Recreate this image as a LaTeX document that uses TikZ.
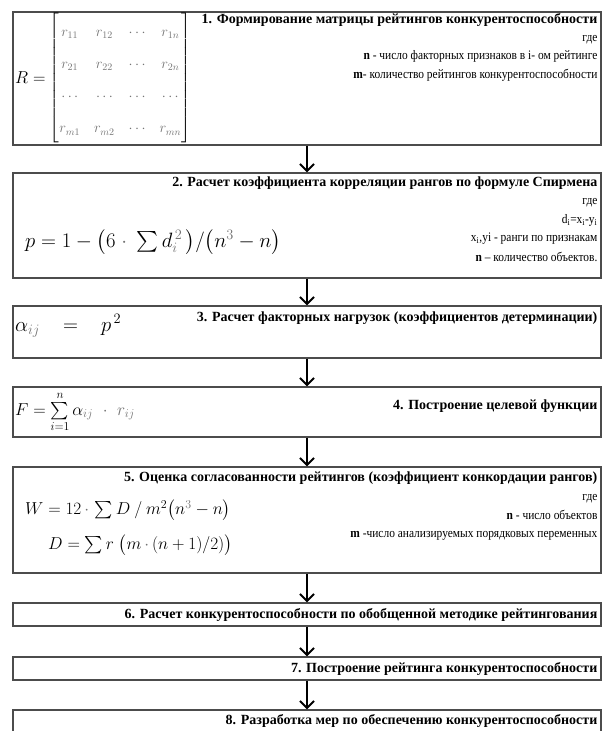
\documentclass[tikz,border=0pt]{standalone}
\usepackage{fontspec}
\usepackage{amsmath}
\setmainfont{Liberation Serif}
\newfontfamily\narrowSerif[FakeStretch=0.88]{Liberation Serif}
\usetikzlibrary{positioning,arrows.meta}
\definecolor{entryGray}{gray}{0.45}
\newcommand{\gr}[1]{{\color{entryGray}#1}}

\begin{document}
\begin{tikzpicture}
		[x=1pt,y=-1pt,
			boxDecorate/.style={draw=black!70,line width=1.2pt,minimum width=588pt,inner sep=0pt},
			arrowDecorate/.style={-{Straight Barb[length=7pt,width=14pt]},line width=2pt},
			titleDecorate/.style={font=\fontsize{14}{16}\selectfont\bfseries,inner sep=1pt},
			noteDecorate/.style={font=\fontsize{13}{18.5}\narrowSerif,align=right,inner sep=1pt},
			formulaDecorate/.style={font=\fontsize{17}{20}\selectfont,inner sep=0pt,anchor=west}]
		\useasboundingbox (0,0) rectangle (603,731);
		\foreach \boxname/\y/\h in {
				b1/78.5/133, b2/225.5/105, b3/332/52, b4/412/50,
				b5/520/106, b6/614.5/23, b7/668.5/23, b8/730/40}
			{
				\node (\boxname) at (307,\y) [boxDecorate,minimum height=\h] {};
			}
		% titles of the steps
		\node (t1) [titleDecorate,below left=1pt and 3pt of b1.north east] {1. Формирование матрицы рейтингов конкурентоспособности};
		\node (t2) [titleDecorate,below left=3pt and 3pt of b2.north east] {2. Расчет коэффициента корреляции рангов по формуле Спирмена};
		\node (t3) [titleDecorate,below left=5pt and 3pt of b3.north east] {3. Расчет факторных нагрузок (коэффициентов детерминации)};
		\node (t4) [titleDecorate,below left=12pt and 3pt of b4.north east] {4. Построение целевой функции};
		\node (t5) [titleDecorate,below left=4pt and 3pt of b5.north east] {5. Оценка согласованности рейтингов (коэффициент конкордации рангов)};
		\node (t6) [titleDecorate,left=3pt of b6.east] {6. Расчет конкурентоспособности по обобщенной методике рейтингования};
		\node (t7) [titleDecorate,left=3pt of b7.east] {7. Построение рейтинга конкурентоспособности};
		\node (t8) [titleDecorate,below left=4pt and 3pt of b8.north east] {8. Разработка мер по обеспечению конкурентоспособности};
		% notes
		\node (n1) [noteDecorate,below left=6pt and 0pt of t1.south east]
			{где\\ \textbf{n} - число факторных признаков в i- ом рейтинге\\ \textbf{m}- количество рейтингов конкурентоспособности};
		\node (n2) [noteDecorate,below left=7pt and 0pt of t2.south east]
			{где\\ d\textsubscript{i}=x\textsubscript{i}-y\textsubscript{i}\\ x\textsubscript{i},yi - ранги по признакам\\[1.5pt] \textbf{n} – количество объектов.};
		\node (n5) [noteDecorate,below left=8pt and 0pt of t5.south east]
			{где\\ \textbf{n} - число объектов\\ \textbf{m} -число анализируемых порядковых переменных};
		% formulas
		\node (f1) [formulaDecorate] at (15,78) {$R =$};
		\node (m1) [formulaDecorate,font=\fontsize{14}{17}\selectfont,right=4pt of f1]
			{\renewcommand{\arraystretch}{1.9}\setlength{\arraycolsep}{7pt}%
			$\begin{bmatrix}
				\gr{r_{11}} & \gr{r_{12}} & \gr{\cdots} & \gr{r_{1n}}\\
				\gr{r_{21}} & \gr{r_{22}} & \gr{\cdots} & \gr{r_{2n}}\\
				\gr{\cdots} & \gr{\cdots} & \gr{\cdots} & \gr{\cdots}\\
				\gr{r_{m1}} & \gr{r_{m2}} & \gr{\cdots} & \gr{r_{mn}}
			\end{bmatrix}$};
		\node (f2) [formulaDecorate,font=\fontsize{20}{23}\selectfont] at (25,242)
			{$p = 1 - \bigl(6\;\gr{\cdot}\;\sum d_{\gr{i}}^{\,\gr{2}}\,\bigr)/\bigl(n^{\gr{3}} - n\bigr)$};
		\node (f3) [formulaDecorate,font=\fontsize{22}{24}\selectfont] at (15,326)
			{$\alpha_{\gr{ij}} \;\;\;=\;\;\; p^{\,2}$};
		\node (f4) [formulaDecorate] at (15,412)
			{$F = \sum\limits_{i=1}^{n} \alpha_{\gr{ij}}\;\;\gr{\cdot}\;\; \gr{r_{ij}}$};
		\node (f5) [formulaDecorate] at (25,510)
			{$W = 12\,\gr{\cdot}\,\sum D \mathbin{/} m^2\bigl(n^{\gr{3}} - n\bigr)$};
		\node (g5) [formulaDecorate,font=\fontsize{16}{19}\selectfont] at (48,545)
			{$D = \sum r\;\bigl(m\,\gr{\cdot}\,(n+1)/2)\bigr)$};
		% arrows between the steps
		\path
		\foreach \startnode/\endnode in {b1/b2, b2/b3, b3/b4, b4/b5, b5/b6, b6/b7, b7/b8}
			{
				(\startnode) edge[arrowDecorate] (\endnode)
			};
	\end{tikzpicture}
\end{document}
